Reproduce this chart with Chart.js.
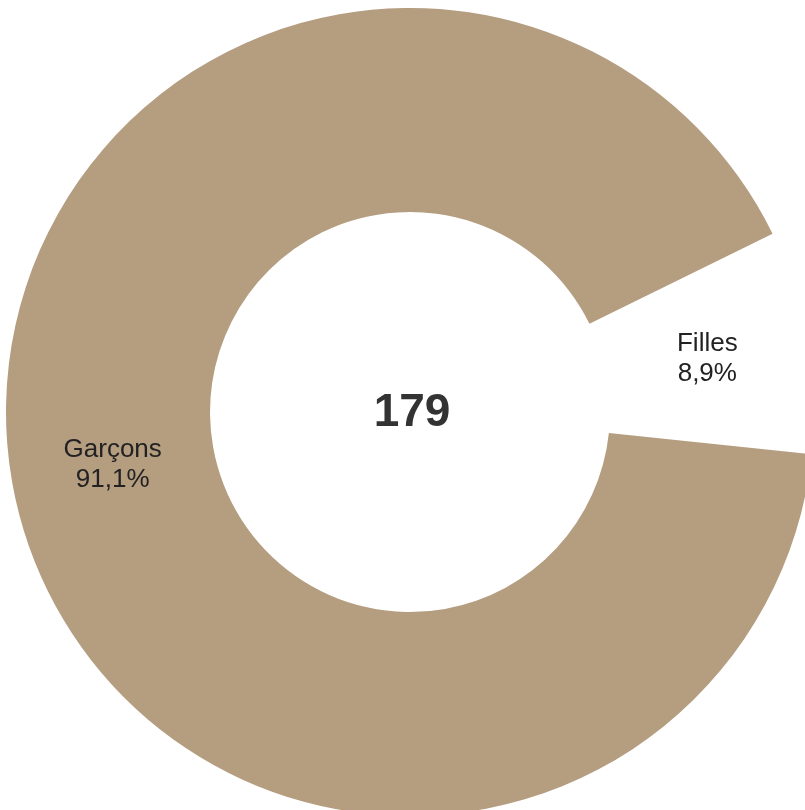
<!DOCTYPE html>
<html>
<head>
<meta charset="utf-8">
<script src="https://cdn.jsdelivr.net/npm/chart.js@4/dist/chart.umd.min.js"></script>
<style>
  html, body { margin: 0; padding: 0; background: #fff; overflow: hidden; }
  #wrap { position: absolute; left: 5px; top: 8px; width: 810px; height: 808px; }
</style>
</head>
<body>
<div id="wrap"><canvas id="chartDonut"></canvas></div>
<script>
'use strict';
const labels = ['Garçons', 'Filles'];
const counts = [163, 16];
const colors = ['#b59d80', 'rgba(255,255,255,0)'];

const total = counts.reduce((s, v) => s + v, 0);

const sliceLabels = {
  id: 'sliceLabels',
  afterDatasetsDraw(chart) {
    const ctx = chart.ctx;
    const meta = chart.getDatasetMeta(0);
    ctx.save();
    ctx.fillStyle = '#222';
    ctx.font = '26px "Liberation Sans", Arial, sans-serif';
    ctx.textAlign = 'center';
    ctx.textBaseline = 'middle';
    meta.data.forEach((arc, i) => {
      const p = arc.tooltipPosition();
      const pct = (counts[i] / total * 100).toFixed(1).replace('.', ',') + '%';
      ctx.fillText(labels[i], p.x, p.y - 15);
      ctx.fillText(pct, p.x, p.y + 15);
    });
    // total in the middle
    const a = meta.data[0];
    ctx.fillStyle = '#333';
    ctx.font = 'bold 46px "Liberation Sans", Arial, sans-serif';
    ctx.fillText(String(total), a.x + 2, a.y + 1);
    ctx.restore();
  }
};

new Chart(document.getElementById('chartDonut'), {
  type: 'doughnut',
  data: {
    labels,
    datasets: [{
      data: counts,
      backgroundColor: colors,
      borderWidth: 0,
    }],
  },
  options: {
    responsive: true,
    maintainAspectRatio: false,
    animation: false,
    rotation: 96,
    cutout: '49.5%',
    layout: { padding: 0 },
    plugins: { legend: { display: false }, tooltip: { enabled: false } },
  },
  plugins: [sliceLabels],
});
</script>
</body>
</html>
